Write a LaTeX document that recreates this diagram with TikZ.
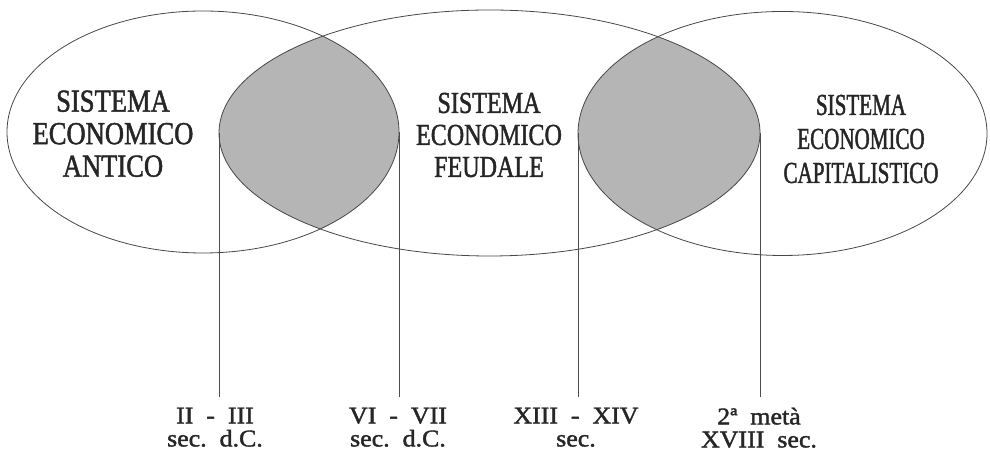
\documentclass[tikz,border=0pt]{standalone}
\usepackage{fontspec}
\setmainfont{Liberation Serif}
\newfontfamily\leftfont[FakeStretch=0.83,FakeBold=1.4]{Liberation Serif}
\newfontfamily\midfont[FakeStretch=0.79,FakeBold=1.4]{Liberation Serif}
\newfontfamily\rightfont[FakeStretch=0.69,FakeBold=1.4]{Liberation Serif}
\newfontfamily\botfont[FakeStretch=1.08,FakeBold=1.6]{Liberation Serif}
\begin{document}
\begin{tikzpicture}[x=1pt,y=1pt,
  ring/.style={draw=black!72,line width=0.8pt},
  lens/.style={fill=black!29},
  tick/.style={draw=black!70,line width=0.8pt},
  systxt/.style={align=center,inner sep=0pt,text=black!85},
  datetxt/.style={align=center,inner sep=0pt,anchor=north,text=black!85,font=\botfont\fontsize{24}{23}\selectfont}]
\useasboundingbox (0,0) rectangle (990,457);
% shaded overlaps
\begin{scope}
  \clip (203,325) ellipse [x radius=196,y radius=121];
  \fill[lens] (489.5,324) ellipse [x radius=270.5,y radius=123];
\end{scope}
\begin{scope}
  \clip (782.5,323.5) ellipse [x radius=204.5,y radius=122];
  \fill[lens] (489.5,324) ellipse [x radius=270.5,y radius=123];
\end{scope}
% ellipses
\draw[ring] (203,325) ellipse [x radius=196,y radius=121];
\draw[ring] (489.5,324) ellipse [x radius=270.5,y radius=123];
\draw[ring] (782.5,323.5) ellipse [x radius=204.5,y radius=122];
% extreme points
\coordinate (Ml) at (219,324);
\coordinate (Lr) at (399,325);
\coordinate (Rl) at (578,323.5);
\coordinate (Mr) at (760,324);
% labels
\node[systxt,font=\leftfont\fontsize{32}{32.5}\selectfont] (antico) at (113,323.3) {SISTEMA\\ECONOMICO\\ANTICO};
\node[systxt,font=\midfont\fontsize{30.5}{32}\selectfont] (feudale) at (489,322) {SISTEMA\\ECONOMICO\\FEUDALE};
\node[systxt,font=\rightfont\fontsize{30.5}{34}\selectfont] (capit) at (861,318) {SISTEMA\\ECONOMICO\\CAPITALISTICO};
\node[datetxt] (d1) at (215,49.5) {II\ \ -\ \ III\\sec.\ \ d.C.};
\node[datetxt] (d2) at (398,49.5) {VI\ \ -\ \ VII\\sec.\ \ d.C.};
\node[datetxt] (d3) at (576,49.5) {XIII\ \ -\ \ XIV\\sec.};
\node[datetxt] (d4) at (759,49.5) {2ª\ \ metà\\XVIII\ \ sec.};
% line ends
\coordinate (e1) at (219,60);
\coordinate (e2) at (399,60);
\coordinate (e3) at (578,60);
\coordinate (e4) at (760,60);
\draw[tick] (Ml) -- (e1);
\draw[tick] (Lr) -- (e2);
\draw[tick] (Rl) -- (e3);
\draw[tick] (Mr) -- (e4);
\end{tikzpicture}
\end{document}
